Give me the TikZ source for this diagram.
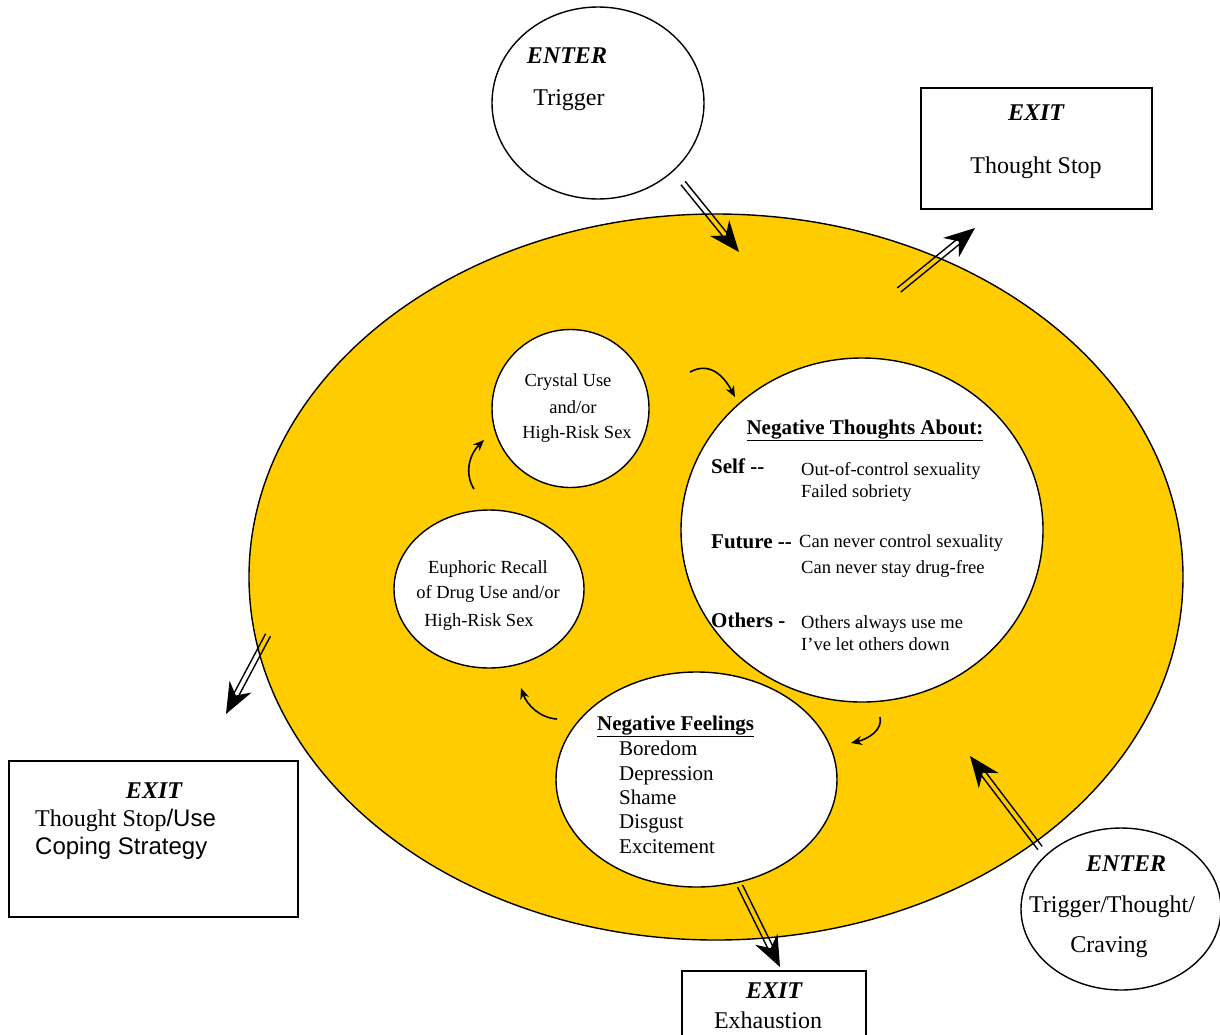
\documentclass[tikz,border=0pt]{standalone}
\usepackage{fontspec}
\setmainfont{Liberation Serif}
\newfontfamily\arialf{Liberation Sans}
\usetikzlibrary{shapes.geometric,arrows.meta,calc}
\definecolor{ringyellow}{HTML}{FFCC00}
\newcommand\fsBig{\fontsize{24}{28}\selectfont}
\newcommand\fsMid{\fontsize{21}{24}\selectfont}
\newcommand\fsSmall{\fontsize{18.5}{22}\selectfont}
\newcommand\dblarrow[2]{%
  \coordinate (ab) at ($(#2)!31pt!(#1)$);
  \coordinate (aw1) at ($(ab)!12.5pt!90:(#2)$);
  \coordinate (aw2) at ($(ab)!12.5pt!-90:(#2)$);
  \coordinate (an) at ($(#2)!21pt!(#1)$);
  \fill (#2) -- (aw1) -- (an) -- (aw2) -- cycle;
  \draw[dblline] ($(#1)!2.7pt!90:(#2)$) -- ($(an)!2.7pt!-90:(#1)$);
  \draw[dblline] ($(#1)!2.7pt!-90:(#2)$) -- ($(an)!2.7pt!90:(#1)$);
}
\begin{document}
\begin{tikzpicture}[x=1pt,y=-1pt,
  oval/.style={shape=ellipse, draw, line width=1.4pt, inner sep=0pt, fill=white},
  boxn/.style={shape=rectangle, draw, line width=1.4pt, inner sep=0pt, fill=white},
  dblline/.style={line width=1.4pt},
  loop/.style={line width=1.6pt, -{Stealth[length=11pt,width=9pt]}},
  txt/.style={inner sep=0pt, anchor=base},
  txtl/.style={inner sep=0pt, anchor=base west}]
\useasboundingbox (0,0) rectangle (1220,1034);
% shapes
\node[oval, fill=ringyellow, minimum width=934, minimum height=726] (ring) at (716,577) {};
\node[oval, minimum width=212, minimum height=192] (enter1) at (598,103) {};
\node[boxn, minimum width=231, minimum height=121] (exit1) at (1036.5,148.5) {};
\node[oval, minimum width=157, minimum height=158] (crystal) at (570.5,408.5) {};
\node[oval, minimum width=362, minimum height=344] (negthought) at (862,530) {};
\node[oval, minimum width=190, minimum height=158] (euphoric) at (489,589) {};
\node[oval, minimum width=281, minimum height=215] (negfeel) at (696.5,779.5) {};
\node[boxn, minimum width=289, minimum height=156] (exit2) at (153.5,839) {};
\node[oval, minimum width=200, minimum height=162] (enter2) at (1121,909) {};
\node[boxn, minimum width=184, minimum height=80] (exit3) at (774,1011) {};
% double arrows
\coordinate (s1) at (683,183); \coordinate (t1) at (739,252);
\coordinate (s2) at (899,290); \coordinate (t2) at (975,228);
\coordinate (s3) at (268,635); \coordinate (t3) at (226,714);
\coordinate (s4) at (1040,848); \coordinate (t4) at (970,756);
\coordinate (s5) at (740,886); \coordinate (t5) at (780,967);
\dblarrow{s1}{t1}
\dblarrow{s2}{t2}
\dblarrow{s3}{t3}
\dblarrow{s4}{t4}
\dblarrow{s5}{t5}
% small loop arrows
\coordinate (la) at (690,372); \coordinate (lat) at (735,397);
\coordinate (lb) at (474,489); \coordinate (lbt) at (484,440);
\coordinate (lc) at (557,719); \coordinate (lct) at (521,688);
\coordinate (ld) at (880,717); \coordinate (ldt) at (851,743);
\draw[loop] (la) .. controls (712,360) and (726,380) .. (lat);
\draw[loop] (lb) .. controls (465,475) and (468,456) .. (lbt);
\draw[loop] (lc) .. controls (540,718) and (527,705) .. (lct);
\draw[loop] (ld) .. controls (883,730) and (868,739) .. (ldt);
% texts
\node[txt] (t-enter1) at (567,63) {\fsBig\bfseries\itshape ENTER};
\node[txt] (t-trigger) at (569,105) {\fsBig Trigger};
\node[txt] (t-exit1) at (1036,120) {\fsBig\bfseries\itshape EXIT};
\node[txt] (t-tstop) at (1036,173) {\fsBig Thought Stop};
\node[txt] (t-cr1) at (568,386) {\fsSmall Crystal Use};
\node[txt] (t-cr2) at (573,413) {\fsSmall and/or};
\node[txt] (t-cr3) at (577,438) {\fsSmall High-Risk Sex};
\node[txt] (t-nta) at (865,434) {\fsMid\bfseries\underline{Negative Thoughts About:}};
\node[txtl] (t-self) at (711,473) {\fsMid\bfseries Self -{}-};
\node[txtl] (t-s1) at (801,475) {\fsSmall Out-of-control sexuality};
\node[txtl] (t-s2) at (801,497) {\fsSmall Failed sobriety};
\node[txtl] (t-fut) at (711,548) {\fsMid\bfseries Future -{}-};
\node[txtl] (t-f1) at (799,547) {\fsSmall Can never control sexuality};
\node[txtl] (t-f2) at (801,573) {\fsSmall Can never stay drug-free};
\node[txtl] (t-oth) at (711,627) {\fsMid\bfseries Others -};
\node[txtl] (t-o1) at (801,628) {\fsSmall Others always use me};
\node[txtl] (t-o2) at (801,650) {\fsSmall I’ve let others down};
\node[txt] (t-eu1) at (488,573) {\fsSmall Euphoric Recall};
\node[txt] (t-eu2) at (488,598) {\fsSmall of Drug Use and/or};
\node[txt] (t-eu3) at (479,626) {\fsSmall High-Risk Sex};
\node[txtl] (t-nf) at (597,730) {\fsMid\bfseries\underline{Negative Feelings}};
\node[txtl] (t-nf1) at (619,755) {\fsMid Boredom};
\node[txtl] (t-nf2) at (619,780) {\fsMid Depression};
\node[txtl] (t-nf3) at (619,804) {\fsMid Shame};
\node[txtl] (t-nf4) at (619,828) {\fsMid Disgust};
\node[txtl] (t-nf5) at (619,853) {\fsMid Excitement};
\node[txt] (t-exit2) at (154,798) {\fsBig\bfseries\itshape EXIT};
\node[txtl] (t-ts2) at (35,826) {\fsBig Thought Stop{\arialf/Use}};
\node[txtl] (t-cope) at (35,854) {\fsBig\arialf Coping Strategy};
\node[txt] (t-enter2) at (1126,871) {\fsBig\bfseries\itshape ENTER};
\node[txt] (t-ttc) at (1112,912) {\fsBig Trigger/Thought/};
\node[txt] (t-crav) at (1109,952) {\fsBig Craving};
\node[txt] (t-exit3) at (774,998) {\fsBig\bfseries\itshape EXIT};
\node[txt] (t-exh) at (768,1028) {\fsBig Exhaustion};
\end{tikzpicture}
\end{document}
